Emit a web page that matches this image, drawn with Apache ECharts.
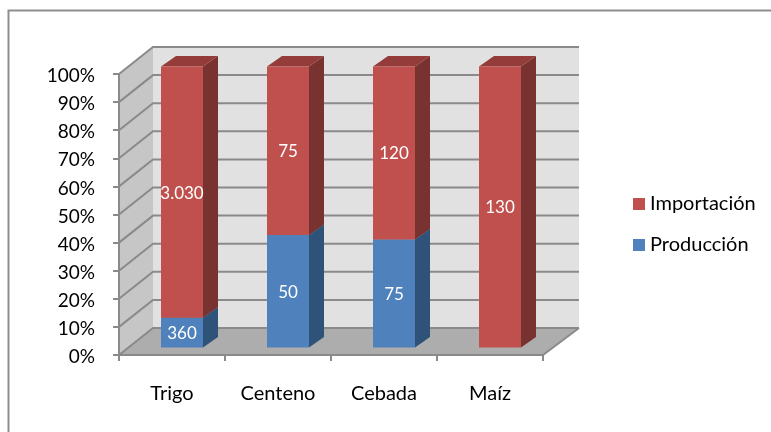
<!DOCTYPE html>
<html>
<head>
<meta charset="utf-8">
<style>html,body{margin:0;padding:0;background:#fff}#c{width:771px;height:432px}</style>
<script src="https://cdn.jsdelivr.net/npm/echarts@6/dist/echarts.min.js"></script>
</head>
<body>
<div id="c"></div>
<script>
const categories = ['Trigo', 'Centeno', 'Cebada', 'Maíz'];
const produccion = [360, 50, 75, 0];
const importacion = ['3.030', '75', '120', '130'];
const importacionValues = [3030, 75, 120, 130];
const produccionLabels = ['360', '50', '75', ''];
const yTicks = [0, 10, 20, 30, 40, 50, 60, 70, 80, 90, 100];

const DX = 34, DXR = 36, DY = -27;      // depth of the plot box
const BX = 15, BY = -10.5;    // depth of a bar
const OX = 10, OY = -7.5;     // bar inset from front plane
const BAR_W = 42;
const FONT = 'Lato';
const AXIS = '#8a8a8a';

const chart = echarts.init(document.getElementById('c'), null, {renderer: 'canvas'});

function shade(points, fill) {
  return {type: 'polygon', shape: {points}, style: {fill, stroke: null}, silent: true};
}
function stroke(points, w) {
  return {type: 'polyline', shape: {points}, style: {fill: null, stroke: AXIS, lineWidth: w || 2}, silent: true};
}

function renderBox(params, api) {
  const cs = params.coordSys;
  const l = cs.x, r = cs.x + cs.width;
  const y0 = api.coord([0, 0])[1], yT = api.coord([0, 100])[1];
  const kids = [
    shade([[l, y0], [l + DX, y0 + DY], [l + DX, yT + DY], [l, yT]], '#c6c6c6'),
    shade([[l + DX, y0 + DY], [r + DXR, y0 + DY], [r + DXR, yT + DY], [l + DX, yT + DY]], '#e1e1e1'),
    shade([[l, y0], [r, y0], [r + DXR, y0 + DY], [l + DX, y0 + DY]], '#adadad')
  ];
  yTicks.forEach(function (t) {
    const y = api.coord([0, t])[1];
    kids.push(stroke([[l, y], [l + DX, y + DY], [r + DXR, y + DY]]));
  });
  kids.push(stroke([[r, y0], [r + DXR, y0 + DY]]));
  return {type: 'group', children: kids};
}

function renderSegment(colors) {
  return function (params, api) {
    const i = api.value(0);
    const from = api.value(1), to = api.value(2);
    if (to - from <= 0) return {type: 'group', children: []};
    const c = api.coord([i, from]);
    const xL = c[0] - BAR_W / 2 + OX, xR = xL + BAR_W;
    const yB = c[1] + OY, yTop = api.coord([i, to])[1] + OY;
    const kids = [
      shade([[xR, yB], [xR + BX, yB + BY], [xR + BX, yTop + BY], [xR, yTop]], colors.side),
      shade([[xL, yTop], [xR, yTop], [xR + BX, yTop + BY], [xL + BX, yTop + BY]], colors.top),
      {type: 'rect', shape: {x: xL, y: yTop, width: BAR_W, height: yB - yTop}, style: {fill: colors.front}, silent: true},
      {type: 'text', x: (xL + xR) / 2, y: (yB + yTop) / 2 + 1,
       style: {text: params.seriesName === 'Importación' ? importacion[i] : produccionLabels[i], fill: '#ffffff',
               font: '17px ' + FONT, align: 'center', verticalAlign: 'middle'}, silent: true}
    ];
    return {type: 'group', children: kids};
  };
}

const totals = categories.map((_, i) => produccion[i] + importacionValues[i]);
const prodData = categories.map((_, i) => [i, 0, produccion[i] / totals[i] * 100]);
const impData = categories.map((_, i) => [i, produccion[i] / totals[i] * 100, 100]);

chart.setOption({
  animation: false,
  backgroundColor: '#ffffff',
  graphic: [{type: 'polyline', shape: {points: [[8.5, 432], [8.5, 10.5], [771, 10.5]]}, style: {fill: null, stroke: '#8e8e8e', lineWidth: 2}, silent: true, z: 0}],
  grid: {left: 119, right: 228, top: 74, bottom: 77, containLabel: false},
  xAxis: {
    type: 'category', data: categories, z: 6,
    axisLine: {lineStyle: {color: AXIS, width: 2}},
    axisTick: {show: true, length: 6, alignWithLabel: false, lineStyle: {color: AXIS, width: 2}},
    axisLabel: {margin: 29, color: '#000', fontFamily: FONT, fontSize: 20},
    splitLine: {show: false}
  },
  yAxis: {
    type: 'value', min: 0, max: 100, interval: 10, z: 6,
    axisLine: {show: true, lineStyle: {color: AXIS, width: 2}},
    axisTick: {show: true, length: 6, lineStyle: {color: AXIS, width: 2}},
    axisLabel: {margin: 24, color: '#000', fontFamily: FONT, fontSize: 19, formatter: '{value}%', verticalAlign: 'top', lineHeight: 4},
    splitLine: {show: false}
  },
  legend: {
    orient: 'vertical', left: 633, top: 194, itemWidth: 12, itemHeight: 12, itemGap: 21,
    icon: 'rect', data: ['Importación', 'Producción'],
    textStyle: {color: '#000', fontFamily: FONT, fontSize: 20},
    selectedMode: false, padding: 0
  },
  series: [
    {type: 'custom', name: 'box', z: 1, data: [[0]], renderItem: renderBox, silent: true, clip: false, encode: {x: 0}},
    {type: 'custom', name: 'Producción', z: 3, data: prodData, encode: {x: 0, y: [1, 2]}, clip: false,
     itemStyle: {color: '#4f81bd'},
     renderItem: renderSegment({front: '#4f81bd', side: '#2f5279', top: '#3a6494'})},
    {type: 'custom', name: 'Importación', z: 4, data: impData, encode: {x: 0, y: [1, 2]}, clip: false,
     itemStyle: {color: '#c0504d'},
     renderItem: renderSegment({front: '#c0504d', side: '#783230', top: '#933c3a'})}
  ]
});
</script>
</body>
</html>
